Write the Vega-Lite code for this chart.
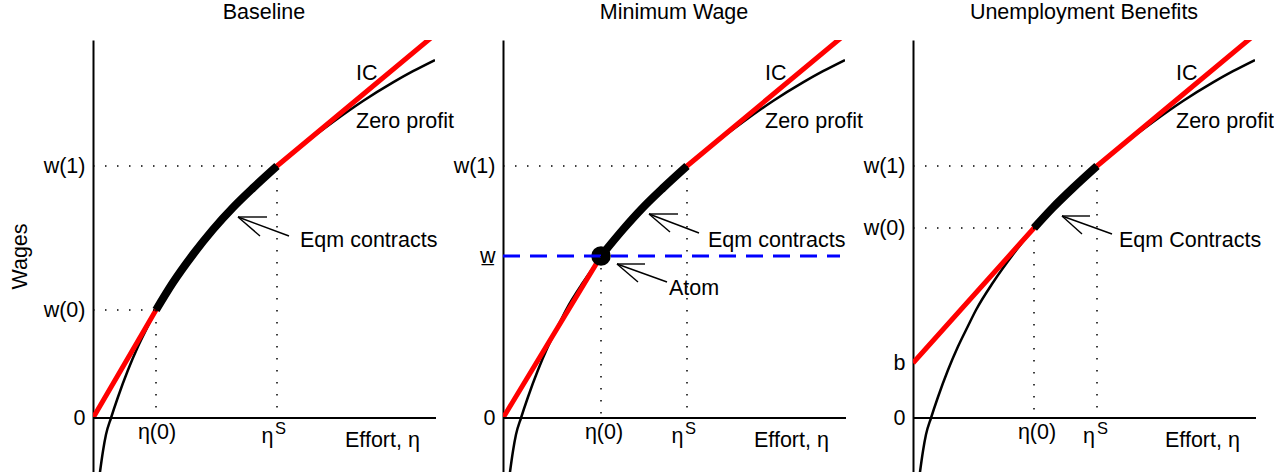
{
  "$schema": "https://vega.github.io/schema/vega-lite/v6.json",
  "autosize": {"type": "pad"},
  "padding": {"left": 9, "top": 1, "right": 0, "bottom": 0},
  "background": "white",
  "bounds": "flush",
  "spacing": 68,
  "config": {
    "view": {"stroke": null},
    "font": "Liberation Sans",
    "axis": {"domainColor": "black", "domainWidth": 2, "ticks": false, "tickSize": 0, "labelFontSize": 21.5, "labelFont": "Liberation Sans", "labelColor": "black", "labelPadding": 8, "grid": false, "titleFontSize": 21.5, "titleFont": "Liberation Sans", "titleFontWeight": "normal", "titleColor": "black", "titlePadding": 12, "labelFlush": false, "labelOverlap": false, "labelBound": false},
    "title": {"fontSize": 21.5, "font": "Liberation Sans", "fontWeight": "normal", "color": "black", "offset": 17, "baseline": "alphabetic"},
    "text": {"font": "Liberation Sans", "fontSize": 21.5, "color": "black"}
  },
  "datasets": {
    "zp": [
      {"x": 4, "y": -78}, {"x": 7, "y": -54}, {"x": 10, "y": -33}, {"x": 13, "y": -16.5}, {"x": 18, "y": 0}, {"x": 25, "y": 21}, {"x": 35, "y": 48}, {"x": 45, "y": 71.5}, {"x": 55, "y": 92}, {"x": 63, "y": 108}, {"x": 80, "y": 135.5}, {"x": 100, "y": 163.5}, {"x": 120, "y": 188.5}, {"x": 140, "y": 210.5}, {"x": 160, "y": 230}, {"x": 184, "y": 252}, {"x": 210, "y": 273.3}, {"x": 240, "y": 296}, {"x": 270, "y": 317}, {"x": 300, "y": 335.6}, {"x": 320, "y": 346.8}, {"x": 342, "y": 358}
    ],
    "ic": [
      {"p": 1, "x": 0, "y": 0}, {"p": 1, "x": 63, "y": 108}, {"p": 1, "x": 80, "y": 135.5}, {"p": 1, "x": 100, "y": 163.5}, {"p": 1, "x": 120, "y": 188.5}, {"p": 1, "x": 140, "y": 210.5}, {"p": 1, "x": 160, "y": 230}, {"p": 1, "x": 184, "y": 252}, {"p": 1, "x": 345, "y": 386},
      {"p": 2, "x": 0, "y": 0}, {"p": 2, "x": 98, "y": 162}, {"p": 2, "x": 120, "y": 188.5}, {"p": 2, "x": 140, "y": 210.5}, {"p": 2, "x": 160, "y": 230}, {"p": 2, "x": 184, "y": 252}, {"p": 2, "x": 345, "y": 386},
      {"p": 3, "x": 0, "y": 55}, {"p": 3, "x": 121, "y": 190}, {"p": 3, "x": 140, "y": 210.5}, {"p": 3, "x": 160, "y": 230}, {"p": 3, "x": 184, "y": 252}, {"p": 3, "x": 345, "y": 386}
    ],
    "eqm": [
      {"p": 1, "x": 63, "y": 108}, {"p": 1, "x": 80, "y": 135.5}, {"p": 1, "x": 100, "y": 163.5}, {"p": 1, "x": 120, "y": 188.5}, {"p": 1, "x": 140, "y": 210.5}, {"p": 1, "x": 160, "y": 230}, {"p": 1, "x": 184, "y": 252},
      {"p": 2, "x": 98, "y": 162}, {"p": 2, "x": 120, "y": 188.5}, {"p": 2, "x": 140, "y": 210.5}, {"p": 2, "x": 160, "y": 230}, {"p": 2, "x": 184, "y": 252},
      {"p": 3, "x": 121, "y": 190}, {"p": 3, "x": 140, "y": 210.5}, {"p": 3, "x": 160, "y": 230}, {"p": 3, "x": 184, "y": 252}
    ],
    "rules": [
      {"p": 1, "k": "zero", "x": 0, "y": 0, "x2": 343, "y2": 0},
      {"p": 2, "k": "zero", "x": 0, "y": 0, "x2": 343, "y2": 0},
      {"p": 3, "k": "zero", "x": 0, "y": 0, "x2": 343, "y2": 0},
      {"p": 1, "k": "dot", "x": 0, "y": 252, "x2": 184, "y2": 252},
      {"p": 1, "k": "dot", "x": 184, "y": 252, "x2": 184, "y2": 0},
      {"p": 1, "k": "dot", "x": 0, "y": 108, "x2": 63, "y2": 108},
      {"p": 1, "k": "dot", "x": 63, "y": 108, "x2": 63, "y2": 0},
      {"p": 2, "k": "dot", "x": 0, "y": 252, "x2": 184, "y2": 252},
      {"p": 2, "k": "dot", "x": 184, "y": 252, "x2": 184, "y2": 0},
      {"p": 2, "k": "dot", "x": 98, "y": 162, "x2": 98, "y2": 0},
      {"p": 3, "k": "dot", "x": 0, "y": 252, "x2": 184, "y2": 252},
      {"p": 3, "k": "dot", "x": 184, "y": 252, "x2": 184, "y2": 0},
      {"p": 3, "k": "dot", "x": 0, "y": 190, "x2": 121, "y2": 190},
      {"p": 3, "k": "dot", "x": 121, "y": 190, "x2": 121, "y2": 0},
      {"p": 1, "k": "arrow", "x": 196, "y": 182, "x2": 145, "y2": 201},
      {"p": 1, "k": "arrow", "x": 145, "y": 201, "x2": 174, "y2": 201},
      {"p": 1, "k": "arrow", "x": 145, "y": 201, "x2": 167, "y2": 182},
      {"p": 2, "k": "arrow", "x": 196, "y": 185, "x2": 146, "y2": 204},
      {"p": 2, "k": "arrow", "x": 146, "y": 204, "x2": 175, "y2": 204},
      {"p": 2, "k": "arrow", "x": 146, "y": 204, "x2": 167, "y2": 186},
      {"p": 2, "k": "arrow", "x": 164, "y": 136, "x2": 114, "y2": 154},
      {"p": 2, "k": "arrow", "x": 114, "y": 154, "x2": 142, "y2": 154},
      {"p": 2, "k": "arrow", "x": 114, "y": 154, "x2": 135, "y2": 136},
      {"p": 3, "k": "arrow", "x": 199, "y": 184, "x2": 149, "y2": 202},
      {"p": 3, "k": "arrow", "x": 149, "y": 202, "x2": 177, "y2": 202},
      {"p": 3, "k": "arrow", "x": 149, "y": 202, "x2": 169, "y2": 184},
      {"p": 2, "k": "blue", "x": 0, "y": 162, "x2": 337, "y2": 162}
    ],
    "pts": [{"p": 2, "x": 98, "y": 162}],
    "txt": [
      {"p": 1, "k": "a", "x": 263, "y": 338, "t": "IC"},
      {"p": 1, "k": "a", "x": 263, "y": 290, "t": "Zero profit"},
      {"p": 1, "k": "a", "x": 207, "y": 171, "t": "Eqm contracts"},
      {"p": 1, "k": "a", "x": 252, "y": -29, "t": "Effort, η"},
      {"p": 1, "k": "c", "x": 64, "y": -21, "t": "η(0)"},
      {"p": 1, "k": "c", "x": 174.5, "y": -25, "t": "η"},
      {"p": 1, "k": "s", "x": 182, "y": -16, "t": "S"},
      {"p": 2, "k": "a", "x": 262, "y": 338, "t": "IC"},
      {"p": 2, "k": "a", "x": 262, "y": 290, "t": "Zero profit"},
      {"p": 2, "k": "a", "x": 205, "y": 171, "t": "Eqm contracts"},
      {"p": 2, "k": "a", "x": 166, "y": 123, "t": "Atom"},
      {"p": 2, "k": "a", "x": 251, "y": -29, "t": "Effort, η"},
      {"p": 2, "k": "c", "x": 101, "y": -21, "t": "η(0)"},
      {"p": 2, "k": "c", "x": 174.5, "y": -25, "t": "η"},
      {"p": 2, "k": "s", "x": 182, "y": -16, "t": "S"},
      {"p": 3, "k": "a", "x": 263, "y": 338, "t": "IC"},
      {"p": 3, "k": "a", "x": 263, "y": 290, "t": "Zero profit"},
      {"p": 3, "k": "a", "x": 206, "y": 171, "t": "Eqm Contracts"},
      {"p": 3, "k": "a", "x": 252, "y": -29, "t": "Effort, η"},
      {"p": 3, "k": "c", "x": 124, "y": -21, "t": "η(0)"},
      {"p": 3, "k": "c", "x": 176, "y": -25, "t": "η"},
      {"p": 3, "k": "s", "x": 184, "y": -16, "t": "S"}
    ]
  },
  "hconcat": [
    {
      "width": 342, "height": 432,
      "title": "Baseline",
      "encoding": {
        "x": {"field": "x", "type": "quantitative", "scale": {"domain": [0, 342], "nice": false, "zero": false}, "axis": null},
        "y": {"field": "y", "type": "quantitative", "scale": {"domain": [-54, 378], "nice": false, "zero": false}, "axis": {"title": "Wages", "values": [0, 108, 252], "labelExpr": "datum.value == 252 ? 'w(1)' : datum.value == 108 ? 'w(0)' : '0'"}}
      },
      "layer": [
        {"data": {"name": "zp"}, "mark": {"type": "line", "color": "black", "strokeWidth": 2.5, "clip": true, "interpolate": "monotone"}},
        {"data": {"name": "ic"}, "transform": [{"filter": "datum.p == 1"}], "mark": {"type": "line", "color": "#ff0000", "strokeWidth": 5, "clip": true}},
        {"data": {"name": "eqm"}, "transform": [{"filter": "datum.p == 1"}], "mark": {"type": "line", "color": "black", "strokeWidth": 8, "strokeCap": "butt", "interpolate": "monotone"}},
        {"data": {"name": "rules"}, "transform": [{"filter": "datum.p == 1 && datum.k == 'zero'"}], "mark": {"type": "rule", "color": "black", "strokeWidth": 2}, "encoding": {"x2": {"field": "x2"}, "y2": {"field": "y2"}}},
        {"data": {"name": "rules"}, "transform": [{"filter": "datum.p == 1 && datum.k == 'dot'"}], "mark": {"type": "rule", "color": "black", "strokeWidth": 1.5, "strokeDash": [1.5, 10.5]}, "encoding": {"x2": {"field": "x2"}, "y2": {"field": "y2"}}},
        {"data": {"name": "rules"}, "transform": [{"filter": "datum.p == 1 && datum.k == 'arrow'"}], "mark": {"type": "rule", "color": "black", "strokeWidth": 1.4}, "encoding": {"x2": {"field": "x2"}, "y2": {"field": "y2"}}},
        {"data": {"name": "txt"}, "transform": [{"filter": "datum.p == 1 && datum.k == 'a'"}], "mark": {"type": "text", "align": "left", "baseline": "alphabetic", "fontSize": 21.5}, "encoding": {"text": {"field": "t"}}},
        {"data": {"name": "txt"}, "transform": [{"filter": "datum.p == 1 && datum.k == 'c'"}], "mark": {"type": "text", "align": "center", "baseline": "alphabetic", "fontSize": 21.5}, "encoding": {"text": {"field": "t"}}},
        {"data": {"name": "txt"}, "transform": [{"filter": "datum.p == 1 && datum.k == 's'"}], "mark": {"type": "text", "align": "left", "baseline": "alphabetic", "fontSize": 16.5}, "encoding": {"text": {"field": "t"}}}
      ]
    },
    {
      "width": 342, "height": 432,
      "title": "Minimum Wage",
      "encoding": {
        "x": {"field": "x", "type": "quantitative", "scale": {"domain": [0, 342], "nice": false, "zero": false}, "axis": null},
        "y": {"field": "y", "type": "quantitative", "scale": {"domain": [-54, 378], "nice": false, "zero": false}, "axis": {"title": null, "values": [0, 162, 252], "labelExpr": "datum.value == 252 ? 'w(1)' : datum.value == 162 ? 'w\u0332' : '0'"}}
      },
      "layer": [
        {"data": {"name": "zp"}, "mark": {"type": "line", "color": "black", "strokeWidth": 2.5, "clip": true, "interpolate": "monotone"}},
        {"data": {"name": "ic"}, "transform": [{"filter": "datum.p == 2"}], "mark": {"type": "line", "color": "#ff0000", "strokeWidth": 5, "clip": true}},
        {"data": {"name": "eqm"}, "transform": [{"filter": "datum.p == 2"}], "mark": {"type": "line", "color": "black", "strokeWidth": 8, "strokeCap": "butt", "interpolate": "monotone"}},
        {"data": {"name": "pts"}, "mark": {"type": "circle", "color": "black", "opacity": 1, "size": 380}},
        {"data": {"name": "rules"}, "transform": [{"filter": "datum.p == 2 && datum.k == 'zero'"}], "mark": {"type": "rule", "color": "black", "strokeWidth": 2}, "encoding": {"x2": {"field": "x2"}, "y2": {"field": "y2"}}},
        {"data": {"name": "rules"}, "transform": [{"filter": "datum.p == 2 && datum.k == 'blue'"}], "mark": {"type": "rule", "color": "#0000ff", "strokeWidth": 3, "strokeDash": [17, 10]}, "encoding": {"x2": {"field": "x2"}, "y2": {"field": "y2"}}},
        {"data": {"name": "rules"}, "transform": [{"filter": "datum.p == 2 && datum.k == 'dot'"}], "mark": {"type": "rule", "color": "black", "strokeWidth": 1.5, "strokeDash": [1.5, 10.5]}, "encoding": {"x2": {"field": "x2"}, "y2": {"field": "y2"}}},
        {"data": {"name": "rules"}, "transform": [{"filter": "datum.p == 2 && datum.k == 'arrow'"}], "mark": {"type": "rule", "color": "black", "strokeWidth": 1.4}, "encoding": {"x2": {"field": "x2"}, "y2": {"field": "y2"}}},
        {"data": {"name": "txt"}, "transform": [{"filter": "datum.p == 2 && datum.k == 'a'"}], "mark": {"type": "text", "align": "left", "baseline": "alphabetic", "fontSize": 21.5}, "encoding": {"text": {"field": "t"}}},
        {"data": {"name": "txt"}, "transform": [{"filter": "datum.p == 2 && datum.k == 'c'"}], "mark": {"type": "text", "align": "center", "baseline": "alphabetic", "fontSize": 21.5}, "encoding": {"text": {"field": "t"}}},
        {"data": {"name": "txt"}, "transform": [{"filter": "datum.p == 2 && datum.k == 's'"}], "mark": {"type": "text", "align": "left", "baseline": "alphabetic", "fontSize": 16.5}, "encoding": {"text": {"field": "t"}}}
      ]
    },
    {
      "width": 342, "height": 432,
      "title": "Unemployment Benefits",
      "encoding": {
        "x": {"field": "x", "type": "quantitative", "scale": {"domain": [0, 342], "nice": false, "zero": false}, "axis": null},
        "y": {"field": "y", "type": "quantitative", "scale": {"domain": [-54, 378], "nice": false, "zero": false}, "axis": {"title": null, "values": [0, 55, 190, 252], "labelExpr": "datum.value == 252 ? 'w(1)' : datum.value == 190 ? 'w(0)' : datum.value == 55 ? 'b' : '0'"}}
      },
      "layer": [
        {"data": {"name": "zp"}, "mark": {"type": "line", "color": "black", "strokeWidth": 2.5, "clip": true, "interpolate": "monotone"}},
        {"data": {"name": "ic"}, "transform": [{"filter": "datum.p == 3"}], "mark": {"type": "line", "color": "#ff0000", "strokeWidth": 5, "clip": true}},
        {"data": {"name": "eqm"}, "transform": [{"filter": "datum.p == 3"}], "mark": {"type": "line", "color": "black", "strokeWidth": 8, "strokeCap": "butt", "interpolate": "monotone"}},
        {"data": {"name": "rules"}, "transform": [{"filter": "datum.p == 3 && datum.k == 'zero'"}], "mark": {"type": "rule", "color": "black", "strokeWidth": 2}, "encoding": {"x2": {"field": "x2"}, "y2": {"field": "y2"}}},
        {"data": {"name": "rules"}, "transform": [{"filter": "datum.p == 3 && datum.k == 'dot'"}], "mark": {"type": "rule", "color": "black", "strokeWidth": 1.5, "strokeDash": [1.5, 10.5]}, "encoding": {"x2": {"field": "x2"}, "y2": {"field": "y2"}}},
        {"data": {"name": "rules"}, "transform": [{"filter": "datum.p == 3 && datum.k == 'arrow'"}], "mark": {"type": "rule", "color": "black", "strokeWidth": 1.4}, "encoding": {"x2": {"field": "x2"}, "y2": {"field": "y2"}}},
        {"data": {"name": "txt"}, "transform": [{"filter": "datum.p == 3 && datum.k == 'a'"}], "mark": {"type": "text", "align": "left", "baseline": "alphabetic", "fontSize": 21.5}, "encoding": {"text": {"field": "t"}}},
        {"data": {"name": "txt"}, "transform": [{"filter": "datum.p == 3 && datum.k == 'c'"}], "mark": {"type": "text", "align": "center", "baseline": "alphabetic", "fontSize": 21.5}, "encoding": {"text": {"field": "t"}}},
        {"data": {"name": "txt"}, "transform": [{"filter": "datum.p == 3 && datum.k == 's'"}], "mark": {"type": "text", "align": "left", "baseline": "alphabetic", "fontSize": 16.5}, "encoding": {"text": {"field": "t"}}}
      ]
    }
  ]
}
